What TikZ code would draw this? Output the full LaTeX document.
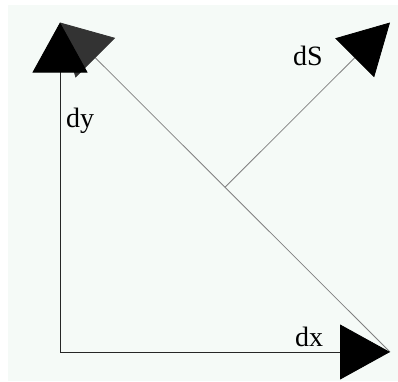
\documentclass[tikz,border=0pt]{standalone}
\usepackage{fontspec}
\setmainfont{Liberation Serif}
\usetikzlibrary{arrows.meta, calc}
\definecolor{paper}{RGB}{245,250,247}

\begin{document}
\begin{tikzpicture}[x=1pt, y=-1pt,
    axis/.style={draw=black!85, line width=0.9pt},
    diag/.style={draw=black!50, line width=0.8pt},
    bigtip/.style={-{Triangle[length=50pt, width=55pt, color=black]}},
    dottip/.style={-{Triangle[length=50pt, width=56pt, color=black!80]}},
    label/.style={font=\fontsize{28}{32}\selectfont, inner sep=0pt},
]
\useasboundingbox (0,0) rectangle (398,381);
\fill[paper] (8,5) rectangle (398,381);

% corner points
\coordinate (O) at (60,352);
\coordinate (X) at (390,352);
\coordinate (Y) at (60,22.5);
\coordinate (S) at (390,22.5);
\coordinate (M) at ($(X)!0.5!(Y)$);

% hypotenuse and normal
\draw[diag, dottip] (X) -- (Y);
\draw[diag, bigtip] (M) -- (S);

% legs
\draw[axis, bigtip] (O) -- (X);
\draw[axis, bigtip] (O) -- (Y);

% labels
\node[label] (dy) at (80,121) {dy};
\node[label] (dS) at (308,56) {dS};
\node[label] (dx) at (309,337) {dx};

\end{tikzpicture}
\end{document}
